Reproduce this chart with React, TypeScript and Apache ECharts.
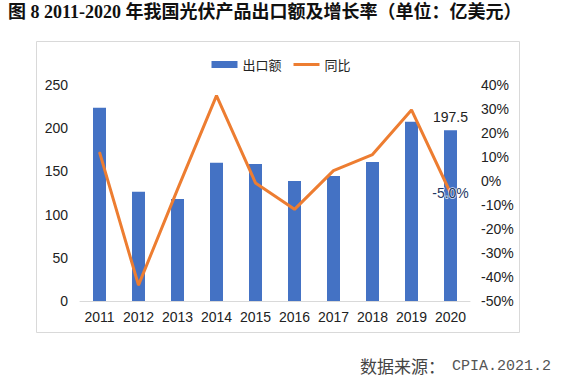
import React, { useEffect, useRef } from "react";
import * as echarts from "echarts";

const categories = ["2011", "2012", "2013", "2014", "2015", "2016", "2017", "2018", "2019", "2020"];
const exportValues = [223.6, 126.5, 118, 160, 158.6, 139, 144.7, 160.9, 207.5, 197.5];
const growthRates = [12, -43.4, -3.5, 35.6, -0.8, -11.8, 4.3, 11, 29.6, -5.0];
const leftTicks = { min: 0, max: 250, interval: 50 };
const rightTicks = { min: -50, max: 40, interval: 10 };

const titleText = "图 8 2011-2020 年我国光伏产品出口额及增长率（单位：亿美元）";
const sourceLabel = "数据来源：";
const sourceValue = "CPIA.2021.2";

export default function App() {
  const ref = useRef<HTMLDivElement>(null);
  useEffect(() => {
    if (!ref.current) return;
    const chart = echarts.init(ref.current, null, { renderer: "svg" });
    const last = categories.length - 1;
    const font = "Liberation Sans, Arial, Noto Sans CJK SC, sans-serif";
    chart.setOption({
      animation: false,
      backgroundColor: "#fff",
      textStyle: { fontFamily: font },
      graphic: [
        {
          type: "rect",
          shape: { x: 36.5, y: 41.5, width: 483, height: 291 },
          style: { fill: "none", stroke: "#d9d9d9", lineWidth: 1 },
          z: -1,
        },
        {
          type: "text",
          x: 8,
          y: 3,
          style: {
            text: titleText,
            fontFamily: "Liberation Serif, Noto Sans CJK SC, serif",
            fontWeight: "bold",
            fontSize: 18,
            fill: "#111",
          },
        },
        {
          type: "text",
          x: 360,
          y: 357,
          style: {
            text: sourceLabel,
            fontFamily: "Noto Sans CJK SC, sans-serif",
            fontSize: 17,
            fill: "#444",
          },
        },
        {
          type: "text",
          x: 452,
          y: 359,
          style: {
            text: sourceValue,
            fontFamily: "Liberation Mono, monospace",
            fontSize: 15,
            fill: "#555",
          },
        },
      ],
      legend: {
        top: 53,
        left: "center",
        itemWidth: 26,
        itemHeight: 7,
        itemGap: 12,
        textStyle: { fontSize: 13, color: "#222", fontFamily: "Noto Sans CJK SC, sans-serif" },
        data: [
          { name: "出口额", icon: "rect" },
          { name: "同比", icon: "path://M0 0H26V3H0Z" },
        ],
      },
      grid: { left: 80, right: 92, top: 85, bottom: 79 },
      xAxis: {
        type: "category",
        data: categories,
        axisTick: { show: false },
        axisLine: { lineStyle: { color: "#d9d9d9", width: 1 } },
        axisLabel: { color: "#222", fontSize: 14, margin: 9, interval: 0 },
      },
      yAxis: [
        {
          type: "value",
          min: leftTicks.min,
          max: leftTicks.max,
          interval: leftTicks.interval,
          splitLine: { show: false },
          axisLine: { show: false },
          axisTick: { show: false },
          axisLabel: { color: "#222", fontSize: 14, margin: 12 },
        },
        {
          type: "value",
          min: rightTicks.min,
          max: rightTicks.max,
          interval: rightTicks.interval,
          position: "right",
          splitLine: { show: false },
          axisLine: { show: false },
          axisTick: { show: false },
          axisLabel: { color: "#222", fontSize: 14, margin: 11, formatter: "{value}%" },
        },
      ],
      series: [
        {
          name: "出口额",
          type: "bar",
          yAxisIndex: 0,
          barWidth: 13,
          itemStyle: { color: "#4472C4" },
          data: exportValues.map((v, i) =>
            i === last
              ? {
                  value: v,
                  label: {
                    show: true,
                    position: "top",
                    distance: 6,
                    color: "#222",
                    fontSize: 14,
                    formatter: (p: any) => String(p.value),
                  },
                }
              : v
          ),
        },
        {
          name: "同比",
          type: "line",
          yAxisIndex: 1,
          symbol: "circle",
          symbolSize: 1,
          showSymbol: true,
          lineStyle: { color: "#ED7D31", width: 3 },
          itemStyle: { color: "#ED7D31" },
          z: 3,
          data: growthRates.map((v, i) =>
            i === last
              ? {
                  value: v,
                  label: {
                    show: true,
                    position: "inside",
                    color: "#1F3864",
                    fontSize: 14,
                    textBorderColor: "rgba(255,255,255,0.8)",
                    textBorderWidth: 1.5,
                    formatter: (p: any) => Number(p.value).toFixed(1) + "%",
                  },
                }
              : v
          ),
        },
      ],
    });
    return () => chart.dispose();
  }, []);
  return (
    <div
      ref={ref}
      style={{ position: "fixed", left: 0, top: 0, width: 562, height: 380 }}
    />
  );
}
